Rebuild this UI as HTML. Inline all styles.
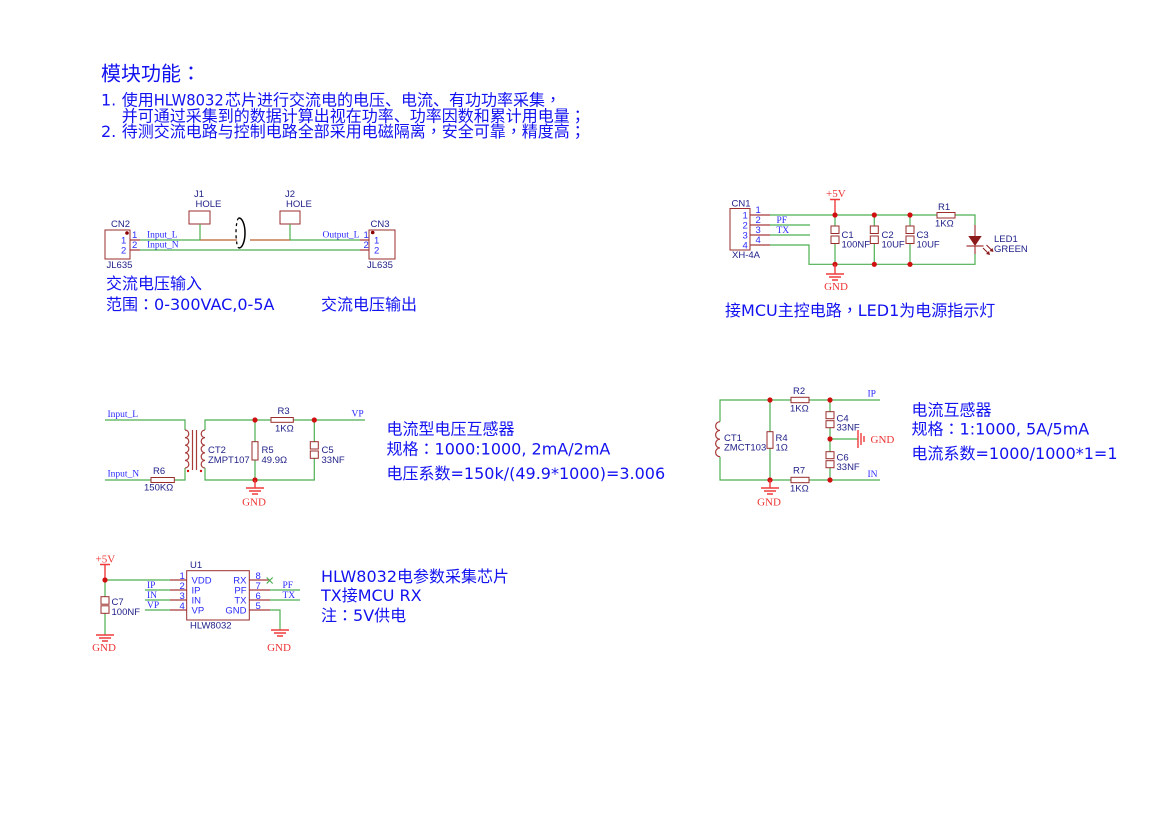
<!DOCTYPE html>
<html><head><meta charset="utf-8">
<style>
html,body{margin:0;padding:0;background:#fff;}
svg{display:block;}
.w{stroke:#4caf50;stroke-width:1.2;fill:none}
.p{stroke:#a83a3a;stroke-width:1.2;fill:none}
.b{stroke:#9b2d2d;stroke-width:1;fill:none}
.br{stroke:#b8602e;stroke-width:1.3;fill:none}
.j{fill:#d01010}
.g{stroke:#ef3b3b;stroke-width:1.4;fill:none}
.t{font-family:"DejaVu Sans","Noto Sans CJK SC",sans-serif;font-size:16px;fill:#1212f0}
.c{font-family:"Noto Sans CJK SC",sans-serif}
.q{font-family:"Noto Sans CJK TC",sans-serif}
.n{font-family:"Liberation Sans",sans-serif;font-size:9.5px;fill:#22228a}
.pn{font-family:"Liberation Sans",sans-serif;font-size:9.5px;fill:#2a2aff}
.nl{font-family:"Liberation Serif",serif;font-size:9.5px;fill:#2a2aff}
.pw{font-family:"Liberation Serif",serif;font-size:11px;fill:#ee3333}
</style></head>
<body>
<svg width="1169" height="826" viewBox="0 0 1169 826" xmlns="http://www.w3.org/2000/svg">
<rect width="1169" height="826" fill="#fff"/>

<!-- Header -->
<text class="t c" x="101" y="80.3" style="font-size:20px">模块功能<tspan class="q">：</tspan></text>
<text class="t" x="101" y="105.6">1.</text>
<text class="t c" x="121.7" y="105.6">使用</text>
<text class="t" x="153.7" y="105.6" textLength="70" lengthAdjust="spacingAndGlyphs">HLW8032</text>
<text class="t c" x="225" y="105.6">芯片进行交流电的电压、电流、有功功率采集<tspan class="q">，</tspan></text>
<text class="t c" x="121.7" y="121.4">并可通过采集到的数据计算出视在功率、功率因数和累计用电量<tspan class="q">；</tspan></text>
<text class="t" x="101" y="137">2.</text>
<text class="t c" x="121.7" y="137">待测交流电路与控制电路全部采用电磁隔离<tspan class="q">，</tspan>安全可靠<tspan class="q">，</tspan>精度高<tspan class="q">；</tspan></text>

<!-- ===== Input/Output connectors ===== -->
<rect class="b" x="105" y="230" width="25" height="29"/>
<circle cx="127" cy="233" r="1.8" fill="#8b0000"/>
<path class="p" d="M130 240h10M130 250h10"/>
<text class="n" x="111" y="227">CN2</text>
<text class="n" x="106.5" y="268">JL635</text>
<text class="pn" x="121" y="243.5">1</text>
<text class="pn" x="121" y="253.5">2</text>
<text class="pn" x="132" y="238">1</text>
<text class="pn" x="132" y="248">2</text>
<path class="w" d="M140 240H200M290 240H360M140 250H360"/>
<path class="br" d="M200 240H237M250 240H290"/>
<path class="p" d="M360 240h9M360 250h9"/>
<rect class="b" x="189" y="211" width="21" height="13"/>
<path class="w" d="M200 224V240"/>
<text class="n" x="194" y="197">J1</text>
<text class="n" x="195.5" y="207">HOLE</text>
<rect class="b" x="280" y="211" width="20" height="13"/>
<path class="w" d="M290 224V240"/>
<text class="n" x="285" y="197">J2</text>
<text class="n" x="286" y="207">HOLE</text>
<path d="M239 218 A3 15 0 0 0 239 248" stroke="#000" stroke-width="1.3" fill="none" stroke-dasharray="3,3"/>
<path d="M239 218 A6 15 0 0 1 239 248" stroke="#000" stroke-width="1.5" fill="none"/>
<text class="nl" x="147" y="237.5">Input_L</text>
<text class="nl" x="147" y="247.5">Input_N</text>
<text class="nl" x="322.5" y="237.5">Output_L</text>
<rect class="b" x="369" y="230" width="26" height="29"/>
<circle cx="372.7" cy="232.5" r="1.8" fill="#8b0000"/>
<text class="n" x="370.5" y="227">CN3</text>
<text class="n" x="367" y="268">JL635</text>
<text class="pn" x="363.5" y="238">1</text>
<text class="pn" x="363.5" y="248">2</text>
<text class="pn" x="374" y="243.5">1</text>
<text class="pn" x="374" y="253.5">2</text>
<text class="t c" x="106" y="289.2">交流电压输入</text>
<text class="t" x="106" y="310"><tspan class="c">范围</tspan><tspan class="q">：</tspan>0-300VAC,0-5A</text>
<text class="t c" x="321" y="310">交流电压输出</text>

<!-- ===== MCU section ===== -->
<rect class="b" x="730" y="208.5" width="20" height="41.5"/>
<path class="p" d="M750 215h20M750 225h20M750 235h20M750 245h20"/>
<text class="pn" x="742.5" y="218.5">1</text>
<text class="pn" x="742.5" y="228.5">2</text>
<text class="pn" x="742.5" y="238.5">3</text>
<text class="pn" x="742.5" y="248.5">4</text>
<text class="pn" x="755.5" y="213">1</text>
<text class="pn" x="755.5" y="223">2</text>
<text class="pn" x="755.5" y="233">3</text>
<text class="pn" x="755.5" y="243">4</text>
<text class="n" x="731.5" y="206.5">CN1</text>
<text class="n" x="732" y="258">XH-4A</text>
<path class="w" d="M770 215H937M770 225H810M770 235H810M770 245H809V264.3H975V254M955 215H975V225"/>
<text class="nl" x="776.5" y="223">PF</text>
<text class="nl" x="776.5" y="233">TX</text>
<text class="pw" x="826" y="197">+5V</text>
<path class="g" d="M830 199.5h10M835 199.5V215"/>
<path class="w" d="M835 215V226M835 243.5V264.3M874.3 215V226M874.3 243.5V264.3M910 215V226M910 243.5V264.3"/>
<rect class="b" x="831" y="226" width="8" height="7.5"/><rect class="b" x="831" y="236" width="8" height="7.5"/>
<rect class="b" x="870.3" y="226" width="8" height="7.5"/><rect class="b" x="870.3" y="236" width="8" height="7.5"/>
<rect class="b" x="906" y="226" width="8" height="7.5"/><rect class="b" x="906" y="236" width="8" height="7.5"/>
<text class="n" x="841.5" y="238">C1</text><text class="n" x="841.5" y="247.5">100NF</text>
<text class="n" x="881.5" y="238">C2</text><text class="n" x="881.5" y="247.5">10UF</text>
<text class="n" x="916.5" y="238">C3</text><text class="n" x="916.5" y="247.5">10UF</text>
<circle class="j" cx="835" cy="215" r="2.6"/><circle class="j" cx="874.3" cy="215" r="2.6"/><circle class="j" cx="910" cy="215" r="2.6"/>
<circle class="j" cx="835" cy="264.3" r="2.6"/><circle class="j" cx="874.3" cy="264.3" r="2.6"/><circle class="j" cx="910" cy="264.3" r="2.6"/>
<path class="g" d="M835 264.3V274M826 274h18M829 277h12M832 280h6"/>
<text class="pw" x="836" y="290" text-anchor="middle">GND</text>
<rect class="b" x="937" y="212.5" width="18" height="5.5"/>
<text class="n" x="938" y="210">R1</text>
<text class="n" x="935" y="226.5">1KΩ</text>
<path class="p" d="M975 225V236M975 246V254"/>
<path d="M968.3 236H981.7L975 246Z" fill="#8b1a1a"/>
<path class="p" d="M966.5 246H983.5"/>
<path d="M983 248L988.5 253.5M986.5 245L992 250.5" stroke="#8b1a1a" stroke-width="1" fill="none"/>
<path d="M990 255L986 254L989 251Z M993.5 252L989.5 251L992.5 248Z" fill="#8b1a1a"/>
<text class="n" x="994" y="242">LED1</text>
<text class="n" x="994" y="252">GREEN</text>
<text class="t" x="725" y="316"><tspan class="c">接</tspan>MCU<tspan class="c">主控电路</tspan><tspan class="q">，</tspan>LED1<tspan class="c">为电源指示灯</tspan></text>

<!-- ===== CT2 voltage transformer ===== -->
<text class="nl" x="107.5" y="417">Input_L</text>
<text class="nl" x="107.5" y="476.5">Input_N</text>
<path class="w" d="M105 420H185V430M185 468V480H174.3M151 480H105"/>
<path class="p" d="M185 430a3.8 3.8 0 0 1 0 7.6a3.8 3.8 0 0 1 0 7.6a3.8 3.8 0 0 1 0 7.6a3.8 3.8 0 0 1 0 7.6a3.8 3.8 0 0 1 0 7.6"/>
<path class="p" d="M192.5 430V470M196.5 430V470"/>
<path class="p" d="M205 430a3.8 3.8 0 0 0 0 7.6a3.8 3.8 0 0 0 0 7.6a3.8 3.8 0 0 0 0 7.6a3.8 3.8 0 0 0 0 7.6a3.8 3.8 0 0 0 0 7.6"/>
<circle cx="188" cy="471" r="1.2" fill="#d01010"/><circle cx="201" cy="471" r="1.2" fill="#d01010"/>
<rect class="b" x="151" y="477.5" width="23.3" height="5"/>
<text class="n" x="153" y="474">R6</text>
<text class="n" x="144" y="490.5">150KΩ</text>
<path class="w" d="M205 430V420H271M293.3 420H365M205 468V480H314.3V458.3M314.3 420V441.7M255 420V441.7M255 460V480"/>
<rect class="b" x="271" y="417.5" width="22.3" height="4.8"/>
<rect class="b" x="252" y="441.7" width="6" height="18.3"/>
<rect class="b" x="310.3" y="441.7" width="8" height="7.3"/><rect class="b" x="310.3" y="451" width="8" height="7.3"/>
<circle class="j" cx="255" cy="420" r="2.6"/><circle class="j" cx="314.3" cy="420" r="2.6"/><circle class="j" cx="255" cy="480" r="2.6"/>
<path class="g" d="M255 480V488M246 488h18M249 491h12M252 494h6"/>
<text class="pw" x="254" y="505.5" text-anchor="middle">GND</text>
<text class="nl" x="351.5" y="416.5">VP</text>
<text class="n" x="277.5" y="414">R3</text>
<text class="n" x="275" y="431.5">1KΩ</text>
<text class="n" x="261.5" y="453">R5</text>
<text class="n" x="261.5" y="463">49.9Ω</text>
<text class="n" x="321.5" y="453">C5</text>
<text class="n" x="321.5" y="463">33NF</text>
<text class="n" x="208" y="453">CT2</text>
<text class="n" x="208" y="463">ZMPT107</text>
<text class="t c" x="386.5" y="434.6">电流型电压互感器</text>
<text class="t" x="386.5" y="454.6"><tspan class="c">规格</tspan><tspan class="q">：</tspan>1000:1000, 2mA/2mA</text>
<text class="t" x="386.5" y="479"><tspan class="c">电压系数</tspan>=150k/(49.9*1000)=3.006</text>

<!-- ===== CT1 current transformer ===== -->
<path class="w" d="M720 421.7V400H791M809 400H880M720 456.7V480H791M809 480H880M770 400V431.7M770 448.3V480M830 400V411.7M830 427.7V451.7M830 467.7V480M830 439H858"/>
<path class="p" d="M720 421.7a4.375 4.375 0 0 0 0 8.75a4.375 4.375 0 0 0 0 8.75a4.375 4.375 0 0 0 0 8.75a4.375 4.375 0 0 0 0 8.75"/>
<rect class="b" x="791" y="397.3" width="18" height="5.4"/>
<rect class="b" x="791" y="477.3" width="18" height="5.4"/>
<rect class="b" x="767" y="431.7" width="6" height="16.6"/>
<rect class="b" x="826" y="411.7" width="8" height="7"/><rect class="b" x="826" y="420.7" width="8" height="7"/>
<rect class="b" x="826" y="451.7" width="8" height="7"/><rect class="b" x="826" y="460.7" width="8" height="7"/>
<circle class="j" cx="770" cy="400" r="2.6"/><circle class="j" cx="830" cy="400" r="2.6"/>
<circle class="j" cx="770" cy="480" r="2.6"/><circle class="j" cx="830" cy="480" r="2.6"/>
<circle class="j" cx="830" cy="439" r="2.6"/>
<path class="g" d="M858 430v18M861 433v12M864 436v6"/>
<text class="pw" x="870.5" y="443">GND</text>
<path class="g" d="M770 480V488M761 488h18M764 491h12M767 494h6"/>
<text class="pw" x="769" y="505.5" text-anchor="middle">GND</text>
<text class="nl" x="867.5" y="396.5">IP</text>
<text class="nl" x="867.5" y="477">IN</text>
<text class="n" x="724" y="441">CT1</text>
<text class="n" x="724" y="450.5">ZMCT103</text>
<text class="n" x="775.5" y="441">R4</text>
<text class="n" x="775.5" y="450.5">1Ω</text>
<text class="n" x="793" y="394">R2</text>
<text class="n" x="790" y="411.5">1KΩ</text>
<text class="n" x="793" y="473.3">R7</text>
<text class="n" x="790" y="491.5">1KΩ</text>
<text class="n" x="836.5" y="421.5">C4</text>
<text class="n" x="836.5" y="430.5">33NF</text>
<text class="n" x="836.5" y="460.5">C6</text>
<text class="n" x="836.5" y="470">33NF</text>
<text class="t c" x="911.5" y="415.6">电流互感器</text>
<text class="t" x="911.5" y="434.5"><tspan class="c">规格</tspan><tspan class="q">：</tspan>1:1000, 5A/5mA</text>
<text class="t" x="911.5" y="459"><tspan class="c">电流系数</tspan>=1000/1000*1=1</text>

<!-- ===== HLW8032 ===== -->
<text class="pw" x="95.5" y="562.5">+5V</text>
<path class="g" d="M100 564.5h10M105 564.5V580"/>
<path class="w" d="M105 580H170M145 590H170M145 600H170M145 610H170M105 580V596.7M105 613.3V635"/>
<circle class="j" cx="105" cy="580" r="2.6"/>
<rect class="b" x="101" y="596.7" width="8" height="7.5"/><rect class="b" x="101" y="605.8" width="8" height="7.5"/>
<text class="n" x="111.5" y="605">C7</text>
<text class="n" x="111.5" y="615">100NF</text>
<path class="g" d="M96 635h18M99 638h12M102 641h6"/>
<text class="pw" x="104" y="651" text-anchor="middle">GND</text>
<text class="nl" x="147" y="588">IP</text>
<text class="nl" x="147" y="598">IN</text>
<text class="nl" x="147" y="608">VP</text>
<path class="p" d="M170 580h16.7M170 590h16.7M170 600h16.7M170 610h16.7M249.3 580H270M249.3 590H270M249.3 600H270M249.3 610H270"/>
<rect class="b" x="186.7" y="570.7" width="62.6" height="49.3"/>
<text class="n" x="190" y="568">U1</text>
<text class="n" x="190" y="628.5">HLW8032</text>
<text class="pn" x="179.5" y="579">1</text>
<text class="pn" x="179.5" y="589">2</text>
<text class="pn" x="179.5" y="599">3</text>
<text class="pn" x="179.5" y="609">4</text>
<text class="pn" x="191.5" y="583.5">VDD</text>
<text class="pn" x="191.5" y="593.5">IP</text>
<text class="pn" x="191.5" y="603.5">IN</text>
<text class="pn" x="191.5" y="613.5">VP</text>
<text class="pn" x="246.5" y="583.5" text-anchor="end">RX</text>
<text class="pn" x="246.5" y="593.5" text-anchor="end">PF</text>
<text class="pn" x="246.5" y="603.5" text-anchor="end">TX</text>
<text class="pn" x="246.5" y="613.5" text-anchor="end">GND</text>
<text class="pn" x="255.5" y="579">8</text>
<text class="pn" x="255.5" y="589">7</text>
<text class="pn" x="255.5" y="599">6</text>
<text class="pn" x="255.5" y="609">5</text>
<path class="w" d="M266.7 577.5l6 6M272.7 577.5l-6 6M270 590H300M270 600H300M270 610H280V630"/>
<text class="nl" x="282.5" y="588">PF</text>
<text class="nl" x="282.5" y="598">TX</text>
<path class="g" d="M271 630h18M274 633h12M277 636h6"/>
<text class="pw" x="279" y="651" text-anchor="middle">GND</text>
<text class="t" x="321" y="582">HLW8032<tspan class="c">电参数采集芯片</tspan></text>
<text class="t" x="321" y="601">TX<tspan class="c">接</tspan>MCU RX</text>
<text class="t" x="321" y="621"><tspan class="c">注</tspan><tspan class="q">：</tspan>5V<tspan class="c">供电</tspan></text>
</svg>
</body></html>
